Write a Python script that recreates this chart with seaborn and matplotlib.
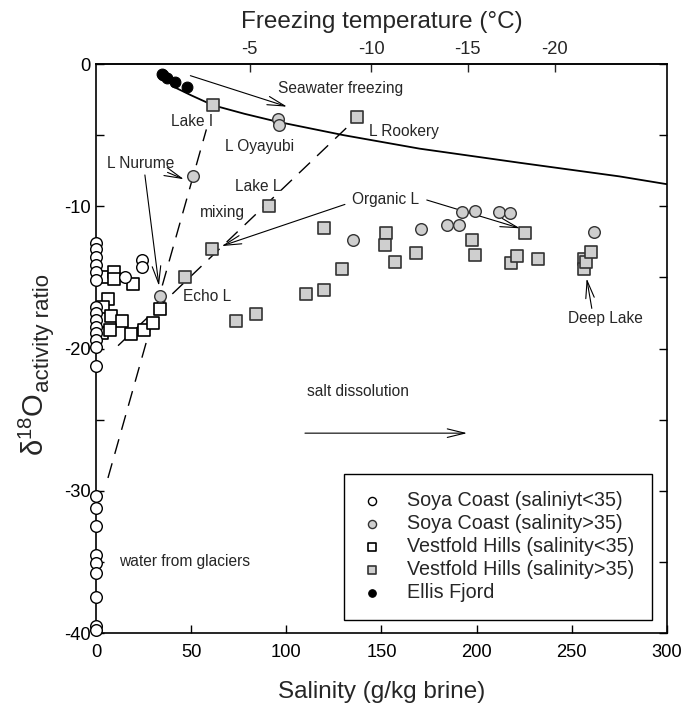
import matplotlib
matplotlib.use("Agg")
import matplotlib.pyplot as plt
import seaborn as sns
import pandas as pd
from matplotlib.ticker import MultipleLocator, FuncFormatter

# ---------------- data ----------------
soya_low_salinity = [0, 0, 0, 0, 0, 0, 0, 0, 0, 0, 0, 0, 0, 0,
                     0, 0, 0, 0, 0, 0, 0, 0, 0, 15.2, 24, 24]
soya_low_d18o = [-12.6, -13.0, -13.6, -14.1, -14.6, -15.2, -17.1, -17.5, -18.0,
                 -18.5, -18.9, -19.4, -19.9, -21.2,
                 -30.4, -31.2, -32.5, -34.5, -35.1, -35.8, -37.5, -39.5, -39.8,
                 -15.0, -13.8, -14.3]

soya_high_salinity = [51.1, 95.8, 96.3, 33.6, 192.2, 199.2, 211.8, 217.5,
                      184.3, 190.8, 170.6, 134.9, 261.7]
soya_high_d18o = [-7.9, -3.9, -4.3, -16.3, -10.4, -10.3, -10.4, -10.5,
                  -11.3, -11.3, -11.6, -12.4, -11.8]

vestfold_low_salinity = [4.2, 9.5, 9.5, 19.3, 6.5, 3.5, 7.7, 13.8, 3.0, 7.4,
                         18.2, 25.4, 29.8, 33.6]
vestfold_low_d18o = [-15.0, -14.6, -15.1, -15.5, -16.5, -17.1, -17.7, -18.1,
                     -18.9, -18.7, -19.0, -18.7, -18.2, -17.2]

vestfold_high_salinity = [61.6, 137.0, 90.9, 60.8, 46.8, 73.4, 84.1, 110.5,
                          119.8, 129.4, 119.8, 152.4, 151.9, 157.1, 168.0,
                          197.6, 199.3, 225.4, 217.9, 221.4, 232.4, 256.4,
                          256.4, 257.5, 260.0]
vestfold_high_d18o = [-2.9, -3.75, -10.0, -13.0, -15.0, -18.1, -17.6, -16.2,
                      -15.9, -14.4, -11.5, -11.9, -12.7, -13.9, -13.3,
                      -12.35, -13.4, -11.9, -14.0, -13.5, -13.7, -13.7,
                      -14.4, -13.9, -13.2]

ellis_salinity = [34.5, 35.4, 37.1, 41.5, 47.7]
ellis_d18o = [-0.7, -0.8, -1.0, -1.3, -1.64]

# seawater freezing curve
freeze_curve_salinity = [40, 50, 61.5, 78, 95, 130, 170, 223, 275, 300]
freeze_curve_d18o = [-1.55, -2.2, -2.9, -3.5, -4.05, -5.0, -5.95, -6.95, -7.9, -8.45]

# mixing lines (dashed)
glacier_mix_salinity = [6.3, 58.0]
glacier_mix_d18o = [-29.1, -4.6]
rookery_mix_salinity = [11.6, 137.0]
rookery_mix_d18o = [-19.8, -3.8]

# top axis: freezing temperature ticks
freezing_tick_salinity = [80.8, 144.7, 195.3, 241.0]
freezing_tick_labels = ["-5", "-10", "-15", "-20"]

# ---------------- style ----------------
sns.set_theme(style="ticks")
plt.rcParams['font.family'] = ['Liberation Sans', 'DejaVu Sans']
plt.rcParams['axes.unicode_minus'] = False
plt.rcParams['mathtext.fontset'] = 'custom'
plt.rcParams['mathtext.rm'] = 'Liberation Sans'
plt.rcParams['mathtext.it'] = 'Liberation Sans:italic'
plt.rcParams['mathtext.default'] = 'regular'

fig = plt.figure(figsize=(6.85, 7.08), dpi=100)
ax = fig.add_axes([0.1401, 0.1059, 0.8336, 0.8037])

# lines
sns.lineplot(x=freeze_curve_salinity, y=freeze_curve_d18o, ax=ax, color='black',
             linewidth=1.3, sort=False, estimator=None, legend=False, zorder=2)
for xs, ys in [(glacier_mix_salinity, glacier_mix_d18o),
               (rookery_mix_salinity, rookery_mix_d18o)]:
    sns.lineplot(x=xs, y=ys, ax=ax, color='black', linewidth=1.0, sort=False,
                 estimator=None, legend=False, dashes=False, zorder=2,
                 linestyle=(0, (11, 7)))

gray = '#cfcfcf'
common = dict(ax=ax, clip_on=False)
sns.scatterplot(x=soya_low_salinity, y=soya_low_d18o, marker='o', s=70,
                facecolor='white', edgecolor='black', linewidth=1.0, zorder=5,
                label='Soya Coast (saliniyt<35)', **common)
sns.scatterplot(x=soya_high_salinity, y=soya_high_d18o, marker='o', s=70,
                facecolor=gray, edgecolor='#333333', linewidth=1.0, zorder=5,
                label='Soya Coast (salinity>35)', **common)
sns.scatterplot(x=vestfold_low_salinity, y=vestfold_low_d18o, marker='s', s=80,
                facecolor='white', edgecolor='black', linewidth=1.2, zorder=4,
                label='Vestfold Hills (salinity<35)', **common)
sns.scatterplot(x=vestfold_high_salinity, y=vestfold_high_d18o, marker='s', s=80,
                facecolor=gray, edgecolor='#333333', linewidth=1.2, zorder=4,
                label='Vestfold Hills (salinity>35)', **common)
sns.scatterplot(x=ellis_salinity, y=ellis_d18o, marker='o', s=60,
                facecolor='black', edgecolor='black', linewidth=0.8, zorder=5,
                label='Ellis Fjord', **common)

# axes
ax.set_xlim(0, 300)
ax.set_ylim(-40, 0)
ax.xaxis.set_major_locator(MultipleLocator(50))
ax.yaxis.set_major_locator(MultipleLocator(5))
ax.yaxis.set_major_formatter(FuncFormatter(lambda v, p: f"{int(round(v))}" if round(v) % 10 == 0 else ""))
ax.tick_params(axis='both', direction='in', length=6, width=1, labelsize=13.2,
               colors='black', pad=8)
ax.tick_params(axis='y', right=True, left=True, pad=4)
ax.tick_params(axis='x', top=False, bottom=True)
for sp in ax.spines.values():
    sp.set_visible(True)
    sp.set_color('black')
    sp.set_linewidth(1.2)

ax.set_xlabel('Salinity (g/kg brine)', fontsize=17.5, labelpad=14)
ax.set_ylabel('')

sec = ax.secondary_xaxis('top')
sec.set_xticks(freezing_tick_salinity)
sec.set_xticklabels(freezing_tick_labels)
sec.tick_params(direction='in', length=6, width=1, labelsize=13.2, pad=4)
sec.set_xlabel('Freezing temperature (°C)', fontsize=17.5, labelpad=10)
sec.spines['top'].set_linewidth(1.2)

# y label: delta18O with a subscript, drawn as two rotated texts
W, H = fig.get_size_inches() * fig.dpi
base_x_px, base_y_px = 44, 708 - 456
t1 = fig.text(base_x_px / W, base_y_px / H, r'$\delta^{18}$O', fontsize=21,
              rotation=90, rotation_mode='anchor', ha='left', va='baseline')
fig.canvas.draw()
bb = t1.get_window_extent(fig.canvas.get_renderer())
fig.text((base_x_px + 5) / W, (bb.y1 + 1) / H, 'activity ratio', fontsize=16,
         rotation=90, rotation_mode='anchor', ha='left', va='baseline')

# annotations
fs = 11.2
aprops = dict(arrowstyle='->,head_length=0.9,head_width=0.22', color='black',
              lw=0.8, shrinkA=0, shrinkB=0, mutation_scale=14)
ax.annotate('', xy=(100.4, -3.0), xytext=(49.6, -0.82), arrowprops=aprops)
ax.text(128.7, -1.75, 'Seawater freezing', fontsize=fs, ha='center', va='center')
ax.text(50.7, -4.06, 'Lake I', fontsize=fs, ha='center', va='center')
ax.text(86.2, -5.77, 'L Oyayubi', fontsize=fs, ha='center', va='center')
ax.text(23.6, -6.99, 'L Nurume', fontsize=fs, ha='center', va='center')
ax.annotate('', xy=(46.2, -8.1), xytext=(37.6, -7.62), arrowprops=aprops)
ax.annotate('', xy=(33.1, -15.6), xytext=(25.7, -7.8), arrowprops=aprops)
ax.text(161.8, -4.71, 'L Rookery', fontsize=fs, ha='center', va='center')
ax.text(85.2, -8.63, 'Lake L', fontsize=fs, ha='center', va='center')
ax.text(66.5, -10.43, 'mixing', fontsize=fs, ha='center', va='center')
ax.text(152.1, -9.56, 'Organic L', fontsize=fs, ha='center', va='center')
ax.annotate('', xy=(66.0, -12.8), xytext=(130.8, -9.87), arrowprops=aprops)
ax.annotate('', xy=(222.8, -11.55), xytext=(173.8, -9.56), arrowprops=aprops)
ax.text(58.5, -16.36, 'Echo L', fontsize=fs, ha='center', va='center')
ax.text(267.5, -17.88, 'Deep Lake', fontsize=fs, ha='center', va='center')
ax.annotate('', xy=(257.8, -15.07), xytext=(260.5, -17.18), arrowprops=aprops)
ax.text(137.7, -23.0, 'salt dissolution', fontsize=fs, ha='center', va='center')
ax.annotate('', xy=(195.0, -25.95), xytext=(109.8, -25.95), arrowprops=aprops)
ax.text(12.2, -35.0, 'water from glaciers', fontsize=fs, ha='left', va='center')

leg = ax.legend(loc='lower right', bbox_to_anchor=(0.974, 0.023), fontsize=14.2,
                frameon=True, fancybox=False, framealpha=1, edgecolor='black',
                markerscale=0.7, handlelength=1.0, handletextpad=1.3,
                labelspacing=0.2, borderpad=0.9, borderaxespad=0)
leg.get_frame().set_linewidth(1.0)
leg.set_zorder(10)

fig.savefig('out.png', dpi=100)
